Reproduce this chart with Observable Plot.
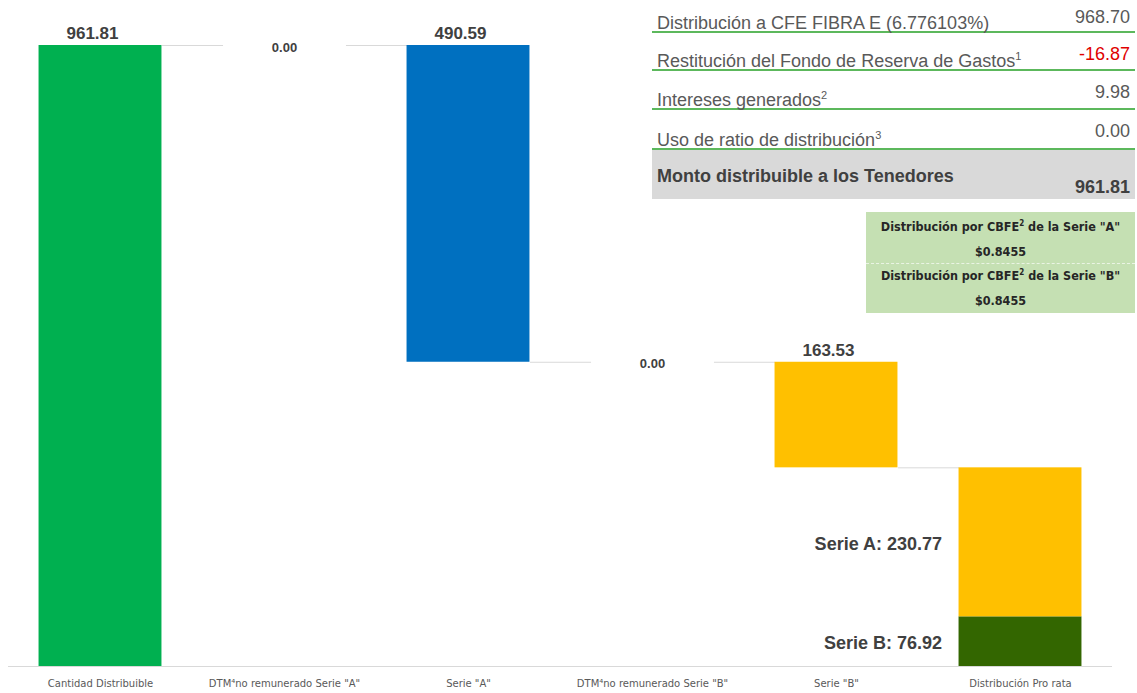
<!DOCTYPE html>
<html>
<head>
<meta charset="utf-8">
<script src="https://cdn.jsdelivr.net/npm/d3@7"></script>
<script src="https://cdn.jsdelivr.net/npm/@observablehq/plot@0.6"></script>
<style>
  html, body { margin: 0; padding: 0; background: #fff; }
  #wrap { position: relative; width: 1137px; height: 693px; font-family: "Liberation Sans", Arial, sans-serif; }
  #chart { position: absolute; left: 0; top: 0; }
  .lab, .val { position: absolute; font-size: 18px; line-height: 18px; color: #595959; white-space: nowrap; }
  .lab { left: 657px; }
  .val { right: 7px; }
  .line { position: absolute; left: 652px; width: 483px; height: 2px; background: #5cb85c; }
  .gray { position: absolute; left: 652px; top: 150px; width: 483px; height: 49px; background: #d9d9d9; }
  .bold { font-weight: bold; color: #404040; }
  sup { font-size: 11px; vertical-align: 7px; line-height: 0; }
  .box { position: absolute; left: 866px; top: 212px; width: 269px; height: 101px; background: #c5e0b3;
         font-family: "DejaVu Sans Condensed", "Liberation Sans", Arial, sans-serif; font-weight: bold;
         color: #262626; text-align: center; font-size: 12.5px; box-sizing: border-box; padding-top: 3px; }
  .box div { height: 24.5px; line-height: 24.5px; }
  .box .sep { border-bottom: 1px dashed #eaf4e4; height: 23.5px; }
  .box sup { font-size: 8px; vertical-align: 5px; }
</style>
</head>
<body>
<div id="wrap">
  <div id="chart"></div>
  <div id="tbl"></div>
  <div class="box" id="box"></div>
</div>
<script>
// ---- data ----
const categories = ["Cantidad Distribuible", "DTM\u2074no remunerado Serie \"A\"", "Serie \"A\"", "DTM\u2074no remunerado Serie \"B\"", "Serie \"B\"", "Distribución Pro rata"];
const stepValues = [961.81, 0.00, 490.59, 0.00, 163.53];   // first is total, rest are deductions
const stepColors = ["#00B050", "#00B050", "#0070C0", "#0070C0", "#FFC000"];
const proRataNames = ["Serie B", "Serie A"];
const proRataValues = [76.92, 230.77];
const proRataColors = ["#336600", "#FFC000"];

const tableLabels = ["Distribución a CFE FIBRA E (6.776103%)", "Restitución del Fondo de Reserva de Gastos<sup>1</sup>", "Intereses generados<sup>2</sup>", "Uso de ratio de distribución<sup>3</sup>", "Monto distribuible a los Tenedores"];
const tableValues = ["968.70", "-16.87", "9.98", "0.00", "961.81"];
const perCbfeSeries = ["A", "B"];
const perCbfeValues = ["$0.8455", "$0.8455"];

// ---- build waterfall rows ----
const bars = [];
let level = 0;
stepValues.forEach((v, i) => {
  let y1, y2;
  if (i === 0) { y1 = 0; y2 = v; level = v; }
  else { y1 = level; y2 = level - v; level = level - v; }
  bars.push({i, y1, y2, top: Math.max(y1, y2), v, color: stepColors[i], zero: v === 0});
});
const half = 0.334;
const connectors = bars.map((b, k) => ({x1: k + half, x2: k + 1 - half, y: b.y2}));
const pr = [];
let acc = 0;
proRataValues.forEach((v, k) => { pr.push({i: 5, y1: acc, y2: acc + v, name: proRataNames[k], v, color: proRataColors[k]}); acc += v; });

const fmt = d3.format(".2f");
const solid = bars.filter(b => !b.zero);
const zero = bars.filter(b => b.zero);

const chart = Plot.plot({
  width: 1137, height: 693,
  marginTop: 45, marginBottom: 27, marginLeft: 8, marginRight: 25,
  style: {fontFamily: "'Liberation Sans', Arial, sans-serif", background: "transparent"},
  x: {domain: [-0.5, 5.5], axis: null},
  y: {domain: [0, 961.81], axis: null},
  marks: [
    Plot.ruleY([0], {stroke: "#d9d9d9", strokeWidth: 1}),
    Plot.link(connectors, {x1: "x1", x2: "x2", y1: "y", y2: "y", stroke: "#d9d9d9", strokeWidth: 1}),
    Plot.rectY(solid, {x1: d => d.i - half, x2: d => d.i + half, y1: "y1", y2: "y2", fill: "color"}),
    Plot.rectY(pr, {x1: d => d.i - half, x2: d => d.i + half, y1: "y1", y2: "y2", fill: "color"}),
    Plot.text(solid, {x: "i", y: "top", text: d => fmt(d.v), dx: -8, dy: -12, fontSize: 17, fontWeight: "bold", fill: "#404040"}),
    Plot.text(zero, {x: "i", y: "top", text: d => fmt(d.v), dy: 2, fontSize: 13, fontWeight: "bold", fill: "#404040"}),
    Plot.text(pr, {x: d => d.i - half, y: d => (d.y1 + d.y2) / 2, text: d => `${d.name}: ${fmt(d.v)}`, textAnchor: "end", dx: -17, dy: 2, fontSize: 18, fontWeight: "bold", fill: "#404040"}),
    Plot.axisX({ticks: d3.range(categories.length), tickFormat: i => categories[i], tickSize: 0, tickPadding: 13, fontSize: 10, fontFamily: "'DejaVu Sans', sans-serif", fill: "#595959", label: null})
  ]
});
document.getElementById("chart").appendChild(chart);

// ---- table ----
const tbl = document.getElementById("tbl");
const labTops = [14, 52, 91, 131, 167];
const valTops = [8, 45, 83, 122, 178];
const lineTops = [31, 69, 108, 148];
let html = `<div class="gray"></div>`;
lineTops.forEach(t => { html += `<div class="line" style="top:${t}px"></div>`; });
tableLabels.forEach((lab, k) => {
  const last = k === tableLabels.length - 1;
  const color = tableValues[k].startsWith("-") ? "color:#e00000;" : "";
  html += `<span class="lab${last ? " bold" : ""}" style="top:${labTops[k]}px">${lab}</span>`;
  html += `<span class="val${last ? " bold" : ""}" style="top:${valTops[k]}px;${color}">${tableValues[k]}</span>`;
});
tbl.innerHTML = html;

const box = document.getElementById("box");
perCbfeSeries.forEach((s, k) => {
  box.innerHTML += `<div>Distribución por CBFE<sup>2</sup> de la Serie "${s}"</div><div class="${k === 0 ? "sep" : ""}">${perCbfeValues[k]}</div>`;
});
</script>
</body>
</html>
